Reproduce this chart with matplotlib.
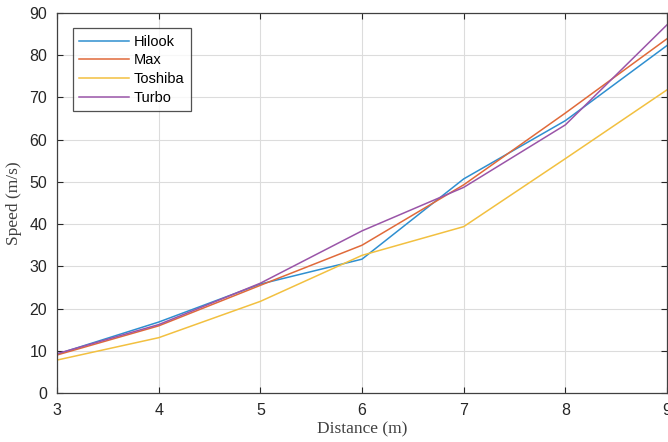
import matplotlib
matplotlib.use("Agg")
import matplotlib.pyplot as plt

plt.rcParams['font.family'] = ['Liberation Sans', 'DejaVu Sans']

distance = [3, 4, 5, 6, 7, 8, 9]
hilook = [9.2, 16.8, 25.8, 31.7, 50.7, 64.5, 82.3]
max_s = [9.0, 15.9, 25.5, 35.0, 49.3, 66.3, 83.9]
toshiba = [7.8, 13.1, 21.7, 32.6, 39.4, 55.5, 71.8]
turbo = [9.3, 16.2, 26.0, 38.4, 48.7, 63.5, 87.2]

series = [("Hilook", hilook, "#2f8fd0"),
          ("Max", max_s, "#e06a3a"),
          ("Toshiba", toshiba, "#f2c040"),
          ("Turbo", turbo, "#9a55a8")]

fig = plt.figure(figsize=(6.68, 4.42), dpi=100)
ax = fig.add_axes([57/668, 49/442, 610/668, 380/442])

for name, vals, c in series:
    ax.plot(distance, vals, color=c, lw=1.1, label=name)

ax.set_xlim(3, 9)
ax.set_ylim(0, 90)
ax.set_xticks(range(3, 10))
ax.set_yticks(range(0, 91, 10))
ax.grid(True, color="#dcdcdc", lw=0.8)
ax.set_axisbelow(True)
ax.tick_params(direction="in", top=True, right=True, labelsize=11.5,
               colors="#262626", length=4, width=0.8, pad=7)
for s in ax.spines.values():
    s.set_color("#404040")
    s.set_linewidth(0.9)

ax.set_xlabel("Distance (m)", family="Liberation Serif", fontsize=12.5, color="#404040", labelpad=3)
ax.set_ylabel("Speed (m/s)", family="Liberation Serif", fontsize=12.5, color="#404040", labelpad=5)

leg = ax.legend(loc="upper left", bbox_to_anchor=(0.026, 0.96), fontsize=10.5,
                frameon=True, fancybox=False, edgecolor="#262626",
                handlelength=3.4, handletextpad=0.3, borderpad=0.45,
                labelspacing=0.32, borderaxespad=0)
leg.get_frame().set_linewidth(0.9)

fig.savefig("out.png", dpi=100)
